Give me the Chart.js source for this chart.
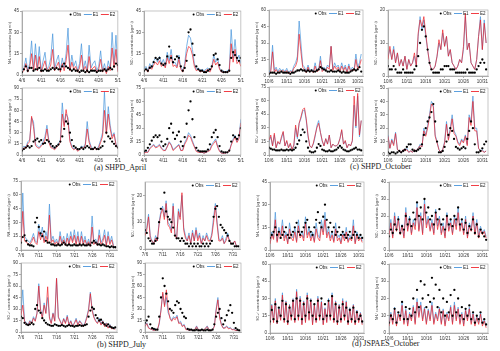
<!DOCTYPE html>
<html>
<head>
<meta charset="utf-8">
<script src="https://cdn.jsdelivr.net/npm/chart.js@4.4.0/dist/chart.umd.min.js"></script>
<style>
  body { margin: 0; background: #fff; width: 500px; height: 351px; overflow: hidden; position: relative; }
  canvas { position: absolute; }
  .cap { position: absolute; font-family: "Liberation Serif", "Times New Roman", serif; font-size: 8px; color: #222; white-space: nowrap; line-height: 1; }
</style>
</head>
<body>
<div class="cap" style="left:94px;top:164px">(a) SHPD_April</div>
<div class="cap" style="left:350px;top:163px">(c) SHPD_October</div>
<div class="cap" style="left:97px;top:341px">(b) SHPD_July</div>
<div class="cap" style="left:352px;top:340px">(d) JSPAES_October</div>
<script>
// x tick labels (one every 5 days)
const aprilTicks = ['4/6', '4/11', '4/16', '4/21', '4/26', '5/1'];
const julyTicks = ['7/6', '7/11', '7/16', '7/21', '7/26', '7/31'];
const octTicks = ['10/6', '10/11', '10/16', '10/21', '10/26', '10/31'];

// values every 12 h, starting at the first tick
// (a) SHPD April
const aNH3obs = [2,4,6,3,5,5,3,4,4,5, 3,3,4,3,3,4,5,4,5,4, 4,6,8,6,5,4,3,4,3,3, 2,3,3,2,3,2,3,3,3,2, 3,3,3,4,3,4,5,4,6,8, 7];
const aNH3e1 = [3,5,12,3,8,24,4,22,5,20, 3,10,16,4,6,12,29,4,10,14, 3,12,5,15,33,4,14,6,10,3, 8,22,4,10,3,21,5,8,10,3, 6,17,3,8,2,10,4,30,8,28, 3];
const aNH3e2 = [2,3,8,2,5,15,3,14,3,13, 2,6,10,3,4,7,18,3,6,9, 2,8,3,10,21,3,9,4,6,2, 5,14,3,6,2,13,3,5,6,2, 4,11,2,5,1,6,3,19,5,18, 2];
const aNO3obs = [3,4,3,5,6,9,12,11,12,8, 7,8,13,20,12,9,11,13,12,6, 3,5,10,30,32,22,14,6,4,3, 3,2,2,3,4,6,14,15,11,7, 3,2,2,2,3,12,16,14,12,10, 12];
const aNO3e1 = [4,6,3,8,5,10,12,9,13,8, 11,6,16,10,18,8,9,6,14,5, 3,8,20,28,26,18,8,4,5,3, 4,3,4,5,3,6,14,9,12,5, 2,3,2,3,4,32,12,25,10,14, 8];
const aNO3e2 = [3,4,2,6,4,7,9,7,10,6, 8,5,12,8,14,6,7,5,11,4, 2,6,15,20,19,14,6,3,4,2, 3,2,3,4,2,5,11,7,9,4, 2,2,2,2,3,22,9,18,8,10, 6];
const aSO4obs = [6,8,10,12,10,12,18,20,22,18, 20,15,16,20,18,15,12,10,12,14, 18,25,35,45,42,30,20,12,10,8, 8,10,8,10,12,10,8,8,10,8, 8,10,12,18,30,25,22,18,15,12, 10];
const aSO4e1 = [8,12,10,18,20,50,45,15,12,10, 14,18,25,40,20,12,10,8,12,15, 20,70,40,55,50,20,12,8,10,6, 8,12,10,15,45,20,12,8,10,8, 12,20,30,85,30,65,40,25,30,15, 10];
const aSO4e2 = [7,10,9,15,18,52,38,13,10,9, 12,15,20,35,17,10,9,7,10,13, 17,55,38,61,45,18,10,7,9,5, 7,10,9,13,35,17,10,7,9,7, 10,17,25,60,28,55,35,22,28,14, 9];
const aNH4obs = [4,5,8,12,16,20,22,20,22,15, 10,12,18,30,35,25,18,22,26,15, 10,20,35,50,60,40,20,8,5,4, 4,4,4,6,12,20,25,28,20,10, 4,3,3,3,5,15,22,20,18,22, 30];
const aNH4e1 = [2,4,3,8,10,12,9,10,12,8, 6,5,10,15,12,6,8,10,12,5, 6,14,18,25,22,16,10,5,4,3, 3,2,3,4,6,12,15,18,10,5, 2,2,2,3,4,12,18,22,15,20, 40];
const aNH4e2 = [2,3,3,7,9,11,8,9,11,7, 5,5,9,14,11,5,7,9,11,5, 5,12,16,22,20,14,9,4,3,3, 3,2,3,4,5,10,13,16,9,4, 2,2,2,3,4,11,16,20,14,18, 36];

// (c) SHPD October
const cNH3obs = [2,3,3,3,2,3,3,4,3,3, 3,3,2,3,3,4,5,5,6,5, 5,4,5,4,5,4,4,5,6,8, 7,6,5,4,4,5,4,4,4,5, 4,3,4,3,3,3,4,5,6,5, 6,8,4];
const cNH3e1 = [3,6,28,5,8,4,7,5,6,4, 7,3,5,4,9,12,18,50,30,10, 8,4,10,5,6,4,12,5,6,18, 5,8,6,10,8,27,6,12,8,10, 5,12,6,10,4,11,5,8,6,20, 8,12,20];
const cNH3e2 = [2,4,22,3,6,3,5,4,5,3, 5,2,4,3,7,9,14,38,22,8, 6,3,8,4,5,3,9,4,5,14, 4,6,5,8,6,27,5,9,6,8, 4,9,5,8,3,9,4,6,5,15, 6,9,15];
const cNO3obs = [3,2,2,3,2,1,1,1,2,1, 1,1,1,1,2,3,6,10,14,15, 12,8,4,2,1,1,1,1,2,2, 3,3,3,2,2,2,1,1,1,1, 1,1,2,1,1,1,1,2,3,4, 5,4,2];
const cNO3e1 = [6,8,5,9,4,7,3,5,3,6, 2,5,3,4,6,3,12,18,14,17, 12,8,4,2,2,3,6,10,8,13, 9,12,6,8,4,3,2,3,5,4, 8,18,8,10,4,3,2,5,12,18, 8,17,10];
const cNO3e2 = [5,9,5,8,4,7,3,5,3,6, 2,5,3,4,7,3,13,17,15,18, 13,8,4,2,2,3,6,11,8,14, 9,12,6,8,4,3,2,3,5,4, 9,19,8,10,4,3,2,5,12,17, 8,16,10];
const cSO4obs = [8,7,6,6,5,5,5,6,5,5, 6,5,6,5,6,8,12,16,22,28, 25,15,8,4,3,3,4,8,12,10, 6,5,4,4,5,4,4,5,6,8, 10,8,6,5,4,4,5,6,7,8, 6,6,5];
const cSO4e1 = [15,20,10,22,8,14,12,18,25,10, 15,8,12,6,10,30,18,35,40,48, 50,38,20,10,8,12,20,32,38,25, 15,10,18,12,22,8,12,10,10,12, 18,27,12,15,8,12,10,15,55,30, 65,20,38];
const cSO4e2 = [16,22,10,24,8,15,12,20,26,10, 16,8,13,6,11,33,20,35,42,50, 52,40,22,10,8,13,22,30,35,25, 16,10,18,12,22,8,12,10,10,12, 18,28,12,16,8,12,10,16,65,32, 68,22,38];
const cNH4obs = [2,1,2,2,1,2,3,2,3,4, 6,8,8,4,3,3,4,5,8,15, 20,25,28,32,38,25,10,2,2,3, 6,10,15,20,18,12,6,5,4,5, 6,5,12,18,25,20,8,2,2,3, 5,8,10];
const cNH4e1 = [15,5,12,8,17,4,3,2,4,3, 5,2,3,2,4,3,5,8,6,20, 15,22,30,40,38,15,10,4,2,4, 10,25,12,20,30,18,15,10,8,12, 10,15,8,30,25,44,20,20,5,3, 4,2,3];
const cNH4e2 = [14,5,11,7,16,4,3,2,4,3, 4,2,3,2,4,3,5,7,6,18, 14,20,28,38,36,14,9,4,2,4, 9,23,11,18,27,16,14,9,7,11, 9,14,7,28,22,40,18,18,5,3, 3,2,3];

// (b) SHPD July
const bNH3obs = [8,14,16,10,6,5,5,4,30,35, 25,18,15,20,10,8,8,6,6,5, 5,6,5,6,8,6,5,6,5,5, 6,5,5,6,5,6,5,5,6,5, 8,10,8,6,6,5,6,5,4,4, 3,4,3,3];
const bNH3e1 = [10,62,15,12,10,8,12,18,10,8, 28,15,25,10,20,12,50,10,15,8, 12,6,20,8,15,6,18,8,20,10, 22,8,20,6,20,8,15,6,12,5, 37,8,12,6,22,8,12,22,6,20, 8,15,5,3];
const bNH3e2 = [8,42,10,8,7,6,9,14,8,6, 20,11,18,8,15,9,38,8,11,6, 9,5,15,6,11,5,13,6,15,8, 16,6,15,5,15,6,11,5,9,4, 25,6,9,5,16,6,9,16,5,15, 6,11,4,2];
const bNO3obs = [7,6,4,3,2,2,3,4,10,15, 26,21,14,12,11,10,8,5,4,4, 3,4,3,2,2,1,2,1,2,1, 2,1,1,2,1,2,1,2,3,12, 15,16,12,9,8,7,6,5,3,2, 2,1,1,1];
const bNO3e1 = [6,8,13,5,3,2,5,3,10,14, 16,12,18,10,9,7,17,6,4,15, 12,20,8,5,3,6,2,7,3,8, 4,6,2,5,3,6,4,3,6,12, 17,10,4,3,5,2,4,6,3,2, 2,3,1,1];
const bNO3e2 = [5,7,12,4,3,2,4,3,9,13, 15,11,17,9,8,6,16,5,4,14, 11,21,7,4,3,5,2,6,3,7, 3,5,2,4,3,5,3,3,5,10, 16,9,3,3,4,2,3,5,3,2, 2,3,1,1];
const bSO4obs = [20,18,12,10,9,10,12,10,30,35, 28,25,18,15,12,10,9,8,8,10, 9,8,8,9,8,7,8,9,8,8, 7,8,8,9,8,8,9,10,20,28, 32,30,22,18,15,16,12,10,8,10, 7,6,5,6];
const bSO4e1 = [25,55,15,12,10,15,12,20,15,25, 63,30,20,38,25,45,20,12,25,15, 70,20,15,10,18,12,22,10,15,8, 12,18,10,15,12,8,12,20,30,52, 30,20,15,12,18,10,15,8,12,6, 10,5,6,4];
const bSO4e2 = [22,35,14,11,9,14,11,18,14,24, 60,28,18,35,24,59,18,11,24,14, 70,19,14,9,17,11,20,9,14,7, 11,16,9,14,11,7,11,18,28,50, 28,19,14,11,16,9,14,7,11,5, 9,4,5,3];
const bNH4obs = [12,15,20,10,5,4,3,3,20,45, 70,60,50,40,30,28,25,35,40,38, 30,25,20,18,4,3,3,2,2,3, 2,2,3,2,2,3,2,2,3,10, 20,25,30,18,10,15,22,28,35,25, 12,5,3,2];
const bNH4e1 = [8,12,6,4,3,2,4,3,10,30, 50,35,45,25,20,15,20,18,22,12, 14,8,10,4,3,2,3,2,3,8, 3,2,3,2,5,8,3,2,3,8, 30,45,20,10,5,6,8,5,6,3, 4,2,2,2];
const bNH4e2 = [7,11,5,4,3,2,3,3,12,28, 52,33,55,30,18,14,18,16,20,11, 12,7,9,3,3,2,3,2,3,7, 3,2,3,2,5,7,3,2,3,7, 28,42,18,9,5,5,7,4,5,3, 3,2,2,2];

// (d) JSPAES October
const dNH3obs = [8,10,12,15,10,12,8,10,12,15, 10,8,10,12,15,18,12,10,12,15, 18,20,15,12,10,15,20,25,18,15, 22,30,20,15,18,12,15,10,12,15, 10,12,10,8,10,12,8,10,12,10, 8,10,8];
const dNH3e1 = [5,12,8,25,6,15,10,20,8,12, 5,18,10,8,15,6,20,10,12,8, 22,10,15,8,12,6,18,10,8,20, 12,25,10,15,8,12,6,18,8,10, 5,12,8,15,6,10,8,20,5,12, 8,10,6];
const dNH3e2 = [4,10,7,20,5,12,8,16,6,10, 4,14,8,6,12,5,16,8,10,6, 18,8,12,6,10,5,14,8,6,16, 10,20,8,12,6,10,5,14,6,8, 4,10,6,12,5,8,6,16,4,10, 6,8,5];
const dNO3obs = [8,12,10,15,12,18,10,14,12,20, 15,18,14,22,18,28,20,25,18,30, 22,25,18,20,15,22,18,24,15,18, 12,20,15,18,14,20,18,25,15,18, 12,16,10,14,12,18,10,15,8,12, 10,8,6];
const dNO3e1 = [10,18,8,22,12,20,10,15,8,25, 12,20,10,18,14,28,12,22,10,30, 15,20,12,18,10,24,14,20,10,16, 8,22,12,18,10,20,14,25,12,18, 10,20,8,16,12,22,10,18,8,14, 10,12,8];
const dNO3e2 = [9,16,7,20,11,18,9,14,7,22, 11,18,9,16,12,25,11,20,9,27, 13,18,11,16,9,22,12,18,9,14, 7,20,11,16,9,18,12,22,11,16, 9,18,7,14,11,20,9,16,7,12, 9,11,7];
const dSO4obs = [10,20,12,25,10,22,15,28,12,25, 10,22,15,28,12,30,15,28,12,25, 15,30,18,28,15,25,12,28,15,30, 12,25,15,28,15,32,12,25,10,22, 12,25,15,22,10,20,12,22,10,18, 12,15,10];
const dSO4e1 = [8,25,10,30,8,22,12,35,10,28, 8,25,12,30,10,38,12,32,8,28, 10,35,12,30,8,25,10,32,12,28, 8,22,10,30,12,35,10,28,8,25, 10,30,12,28,8,22,10,25,8,20, 10,18,8];
const dSO4e2 = [7,24,9,28,8,21,11,33,9,27, 7,24,11,29,9,36,11,30,7,27, 9,33,11,29,7,24,9,30,11,27, 7,21,9,28,11,33,9,27,7,24, 9,28,11,27,7,21,9,24,7,19, 9,17,7];
const dNH4obs = [6,10,8,14,6,12,10,18,8,15, 8,14,10,20,12,25,15,30,20,28, 15,22,18,32,20,28,15,25,12,20, 10,18,12,22,10,25,12,20,10,15, 8,14,10,16,8,12,6,10,8,12, 6,8,5];
const dNH4e1 = [5,12,6,15,5,12,8,18,6,14, 5,12,8,16,6,20,10,18,8,15, 6,14,8,18,6,12,8,15,6,14, 5,12,8,16,6,18,8,15,6,12, 5,14,8,15,6,12,5,10,6,12, 5,8,4];
const dNH4e2 = [4,11,5,14,4,11,7,16,5,13, 4,11,7,15,5,18,9,16,7,14, 5,13,7,16,5,11,7,14,5,13, 4,11,7,15,5,16,7,14,5,11, 4,13,7,14,5,11,4,9,5,11, 4,7,3];

const T_NH3 = 'NH\u2083 concentrations (\u03bcg m\u207b\u00b3)';
const T_NO3 = 'NO\u2083\u207b concentrations (\u03bcg m\u207b\u00b3)';
const T_SO4 = 'SO\u2084\u00b2\u207b concentrations (\u03bcg m\u207b\u00b3)';
const T_NH4 = 'NH\u2084\u207a concentrations (\u03bcg m\u207b\u00b3)';

const COL_E1 = 'rgba(74,150,220,0.9)';
const COL_E2 = 'rgba(238,28,36,0.85)';

// plot boxes are [left, top, right, bottom] of the plot area on the page
const panels = [
  { box: [22, 10, 120, 75], xt: aprilTicks, xmax: 25, ymax: 45, step: 15, title: T_NH3, obs: aNH3obs, e1: aNH3e1, e2: aNH3e2 },
  { box: [144, 10, 243, 75], xt: aprilTicks, xmax: 25, ymax: 45, step: 15, title: T_NO3, obs: aNO3obs, e1: aNO3e1, e2: aNO3e2 },
  { box: [22, 87, 120, 155], xt: aprilTicks, xmax: 25, ymax: 90, step: 15, title: T_SO4, obs: aSO4obs, e1: aSO4e1, e2: aSO4e2 },
  { box: [144, 87, 243, 155], xt: aprilTicks, xmax: 25, ymax: 75, step: 15, title: T_NH4, obs: aNH4obs, e1: aNH4e1, e2: aNH4e2 },

  { box: [269, 9, 365, 76], xt: octTicks, xmax: 26.5, ymax: 60, step: 15, title: T_NH3, obs: cNH3obs, e1: cNH3e1, e2: cNH3e2 },
  { box: [388, 9, 490, 76], xt: octTicks, xmax: 26.5, ymax: 20, step: 10, title: T_NO3, obs: cNO3obs, e1: cNO3e1, e2: cNO3e2 },
  { box: [269, 86, 365, 155], xt: octTicks, xmax: 26.5, ymax: 75, step: 15, title: T_SO4, obs: cSO4obs, e1: cSO4e1, e2: cSO4e2 },
  { box: [388, 87, 490, 155], xt: octTicks, xmax: 26.5, ymax: 50, step: 10, title: T_NH4, obs: cNH4obs, e1: cNH4e1, e2: cNH4e2 },

  { box: [21, 180, 119, 250], xt: julyTicks, xmax: 27, ymax: 75, step: 15, title: T_NH3, obs: bNH3obs, e1: bNH3e1, e2: bNH3e2 },
  { box: [145, 181, 242, 249], xt: julyTicks, xmax: 27, ymax: 25, step: 10, title: T_NO3, obs: bNO3obs, e1: bNO3e1, e2: bNO3e2 },
  { box: [21, 262, 119, 332], xt: julyTicks, xmax: 27, ymax: 90, step: 15, title: T_SO4, obs: bSO4obs, e1: bSO4e1, e2: bSO4e2 },
  { box: [145, 262, 243, 332], xt: julyTicks, xmax: 27, ymax: 90, step: 15, title: T_NH4, obs: bNH4obs, e1: bNH4e1, e2: bNH4e2 },

  { box: [270, 181, 366, 250], xt: octTicks, xmax: 26.5, ymax: 45, step: 15, title: T_NH3, obs: dNH3obs, e1: dNH3e1, e2: dNH3e2 },
  { box: [389, 181, 490, 250], xt: octTicks, xmax: 26.5, ymax: 40, step: 10, title: T_NO3, obs: dNO3obs, e1: dNO3e1, e2: dNO3e2 },
  { box: [270, 263, 366, 333], xt: octTicks, xmax: 26.5, ymax: 60, step: 15, title: T_SO4, obs: dSO4obs, e1: dSO4e1, e2: dSO4e2 },
  { box: [389, 263, 490, 333], xt: octTicks, xmax: 26.5, ymax: 40, step: 10, title: T_NH4, obs: dNH4obs, e1: dNH4e1, e2: dNH4e2 }
];

// frame round the plot area and the little legend at its top right
const frameLegend = {
  id: 'frameLegend',
  afterDraw(chart) {
    const { ctx, chartArea: a } = chart;
    ctx.save();
    ctx.strokeStyle = '#a0a0a0';
    ctx.lineWidth = 0.6;
    ctx.strokeRect(a.left, a.top, a.right - a.left, a.bottom - a.top);

    ctx.font = '4.5px "Liberation Sans", Arial, sans-serif';
    ctx.textBaseline = 'middle';
    const y = a.top + 3.5;
    const items = [
      { lab: 'Obs', mark: null },
      { lab: 'E1', mark: COL_E1 },
      { lab: 'E2', mark: COL_E2 }
    ];
    let w = 0;
    items.forEach(it => {
      it.tw = ctx.measureText(it.lab).width;
      it.mw = it.mark ? 8 : 3;
      w += it.mw + 1 + it.tw + 2.5;
    });
    let x = a.right - w;
    items.forEach(it => {
      if (!it.mark) {
        ctx.fillStyle = '#000';
        ctx.beginPath();
        ctx.arc(x + 1.5, y, 1, 0, Math.PI * 2);
        ctx.fill();
      } else {
        ctx.strokeStyle = it.mark;
        ctx.lineWidth = 1;
        ctx.beginPath();
        ctx.moveTo(x, y);
        ctx.lineTo(x + it.mw, y);
        ctx.stroke();
      }
      x += it.mw + 1;
      ctx.fillStyle = '#222';
      ctx.fillText(it.lab, x, y);
      x += it.tw + 2.5;
    });
    ctx.restore();
  }
};

function halfDays(arr) {
  return arr.map((v, i) => ({ x: i * 0.5, y: v }));
}

function makePanel(p) {
  const [L, T, R, B] = p.box;
  const c = document.createElement('canvas');
  const w = R - L + 24, h = B - T + 12;
  c.width = w; c.height = h;
  c.style.width = w + 'px'; c.style.height = h + 'px';
  c.style.left = (L - 22) + 'px'; c.style.top = (T - 3) + 'px';
  document.body.appendChild(c);

  const yt = [];
  for (let v = 0; v <= p.ymax; v += p.step) yt.push(v);

  new Chart(c, {
    type: 'line',
    data: {
      datasets: [
        { label: 'Obs', data: halfDays(p.obs), showLine: false, pointRadius: 1.15, pointBorderWidth: 0,
          pointBackgroundColor: '#000', borderColor: '#000', order: 0 },
        { label: 'E1', data: halfDays(p.e1), borderColor: COL_E1, borderWidth: 0.8, pointRadius: 0, order: 2 },
        { label: 'E2', data: halfDays(p.e2), borderColor: COL_E2, borderWidth: 0.8, pointRadius: 0, order: 1 }
      ]
    },
    options: {
      responsive: false,
      animation: false,
      events: [],
      layout: { padding: { top: 3, right: 2, left: 0, bottom: 0 } },
      plugins: { legend: { display: false }, tooltip: { enabled: false } },
      scales: {
        x: {
          type: 'linear', min: 0, max: p.xmax,
          afterFit: s => { s.height = 9; },
          afterBuildTicks: s => { s.ticks = p.xt.map((_, k) => ({ value: k * 5 })); },
          ticks: { maxRotation: 0, autoSkip: false, padding: 1, color: '#333',
                   font: { size: 4.5, family: '"Liberation Sans", Arial' },
                   callback: v => p.xt[Math.round(v / 5)] },
          grid: { drawOnChartArea: false, tickLength: 2, color: '#777', lineWidth: 0.6 },
          border: { color: '#777', width: 0.6 }
        },
        y: {
          min: 0, max: p.ymax,
          afterFit: s => { s.width = 22; },
          afterBuildTicks: s => { s.ticks = yt.map(v => ({ value: v })); },
          ticks: { padding: 1, color: '#333', font: { size: 4.5, family: '"Liberation Sans", Arial' } },
          grid: { drawOnChartArea: false, tickLength: 2, color: '#777', lineWidth: 0.6 },
          border: { color: '#777', width: 0.6 },
          title: { display: true, text: p.title, color: '#333', padding: { top: 8, bottom: 0 },
                   font: { size: 3.4, family: '"Liberation Sans", Arial' } }
        }
      }
    },
    plugins: [frameLegend]
  });
}

panels.forEach(makePanel);
</script>
</body>
</html>
